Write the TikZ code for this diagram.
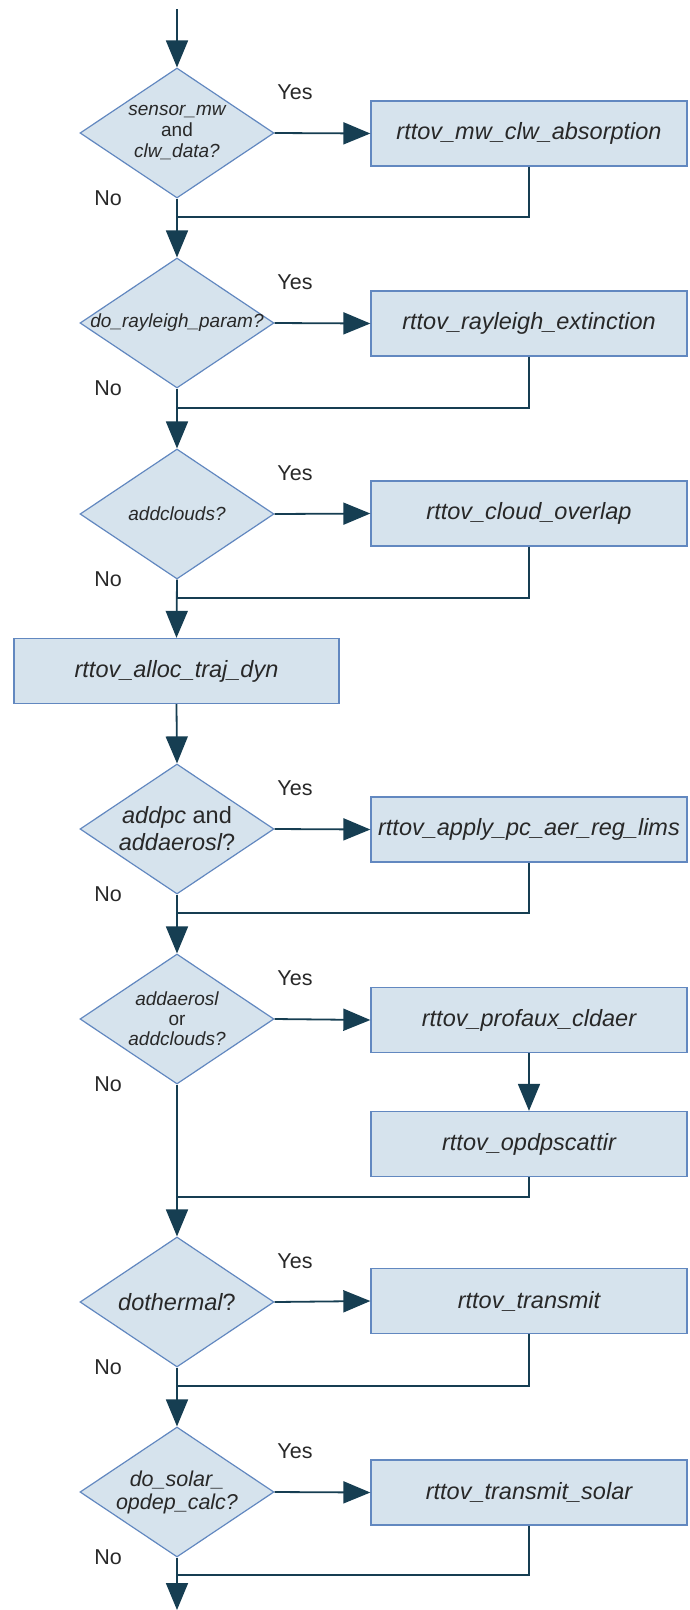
\documentclass[tikz,border=0pt]{standalone}
\usepackage{fontspec}
\setmainfont{Liberation Sans}
\usetikzlibrary{arrows.meta,shapes.geometric}

\definecolor{boxfill}{RGB}{214,227,237}
\definecolor{boxline}{RGB}{98,136,192}
\definecolor{flow}{RGB}{22,62,82}
\definecolor{txt}{RGB}{40,40,40}

\tikzset{
  decision/.style={diamond, draw=boxline, fill=boxfill, line width=1.2pt,
    minimum width=194pt, minimum height=130pt, inner sep=0pt},
  dtext/.style={align=center, text=txt, inner sep=0pt},
  stepbox/.style={rectangle, draw=boxline, fill=boxfill, line width=1.3pt,
    minimum width=316pt, minimum height=65pt, inner sep=0pt, text=txt,
    font=\fontsize{23.5}{27}\selectfont\itshape},
  answer/.style={text=txt, inner sep=0pt, font=\fontsize{21.5}{24}\selectfont},
  link/.style={draw=flow, line width=1.8pt},
  arr/.style={link, -{Triangle[length=27pt, width=22pt]}},
  small/.style={font=\fontsize{19}{21}\selectfont},
  big/.style={font=\fontsize{23.5}{27}\selectfont},
}

\begin{document}
\begin{tikzpicture}[x=1pt, y=-1pt]
\useasboundingbox (0,0) rectangle (689,1610);

% decisions
\node[decision] (d1) at (177,133) {};
\node[decision] (d2) at (177,323) {};
\node[decision] (d3) at (177,514) {};
\node[decision] (d4) at (177,829) {};
\node[decision] (d5) at (177,1019) {};
\node[decision] (d6) at (177,1302) {};
\node[decision] (d7) at (177,1492) {};

\node[dtext, small] (t1) at (d1) {\itshape sensor\_mw\\and\\\itshape clw\_data?};
\node[dtext, small] (t2) at (d2) {\itshape do\_rayleigh\_param?};
\node[dtext, small] (t3) at (d3) {\itshape addclouds?};
\node[dtext, big] (t4) at (d4) {{\itshape addpc} and\\{\itshape addaerosl}?};
\node[dtext, font=\fontsize{19}{20}\selectfont] (t5) at (d5) {\itshape addaerosl\\or\\\itshape addclouds?};
\node[dtext, big] (t6) at (d6) {{\itshape dothermal}?};
\node[dtext, font=\fontsize{21.5}{23}\selectfont] (t7) at (d7) {\itshape do\_solar\_\\\itshape opdep\_calc?};

% process boxes
\node[stepbox] (b1) at (529,133.5) {rttov\_mw\_clw\_absorption};
\node[stepbox] (b2) at (529,323.5) {rttov\_rayleigh\_extinction};
\node[stepbox] (b3) at (529,513.5) {rttov\_cloud\_overlap};
\node[stepbox, minimum width=325pt] (alloc) at (176.5,671) {rttov\_alloc\_traj\_dyn};
\node[stepbox] (b4) at (529,829.5) {rttov\_apply\_pc\_aer\_reg\_lims};
\node[stepbox] (b5) at (529,1020) {rttov\_profaux\_cldaer};
\node[stepbox] (b6) at (529,1144) {rttov\_opdpscattir};
\node[stepbox] (b7) at (529,1301) {rttov\_transmit};
\node[stepbox] (b8) at (529,1492.5) {rttov\_transmit\_solar};

% yes / no labels
\foreach \d in {1,...,7}{
  \path (d\d.center) ++(118,-41) node[answer] (yes\d) {Yes};
  \path (d\d.center) ++(-69,65) node[answer] (no\d) {No};
}

% join points on the main line
\coordinate (start) at (177,9);
\coordinate (m1) at (177,217);
\coordinate (m2) at (177,408);
\coordinate (m3) at (177,598);
\coordinate (m4) at (177,913);
\coordinate (m5) at (177,1197);
\coordinate (m6) at (177,1386);
\coordinate (m7) at (177,1575);
\coordinate (finish) at (177,1610);

% main line
\draw[arr] (start) -- (d1.north);
\draw[arr] (d1.south) -- (d2.north);
\draw[arr] (d2.south) -- (d3.north);
\draw[arr] (d3.south) -- (alloc.north);
\draw[arr] (alloc.south) -- (d4.north);
\draw[arr] (d4.south) -- (d5.north);
\draw[arr] (d5.south) -- (d6.north);
\draw[arr] (d6.south) -- (d7.north);
\draw[arr] (d7.south) -- (finish);

% yes branches
\draw[arr] (d1.east) -- (b1.west);
\draw[arr] (d2.east) -- (b2.west);
\draw[arr] (d3.east) -- (b3.west);
\draw[arr] (d4.east) -- (b4.west);
\draw[arr] (d5.east) -- (b5.west);
\draw[arr] (b5.south) -- (b6.north);
\draw[arr] (d6.east) -- (b7.west);
\draw[arr] (d7.east) -- (b8.west);

% returns to the main line
\draw[link] (b1.south) |- (m1);
\draw[link] (b2.south) |- (m2);
\draw[link] (b3.south) |- (m3);
\draw[link] (b4.south) |- (m4);
\draw[link] (b6.south) |- (m5);
\draw[link] (b7.south) |- (m6);
\draw[link] (b8.south) |- (m7);
\end{tikzpicture}
\end{document}
